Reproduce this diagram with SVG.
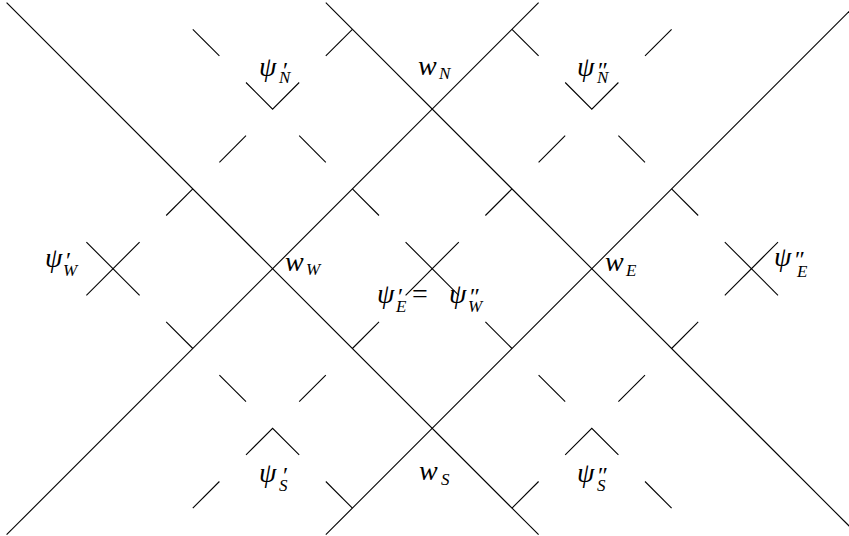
<svg xmlns="http://www.w3.org/2000/svg" width="849" height="536" viewBox="0 0 849 536">
<style>
.ln{stroke:#000;stroke-width:1.1;fill:none}
.m{font-family:"Liberation Serif","Times New Roman",serif;font-style:italic;font-size:28px;fill:#000}
.s{font-size:17px}
.p{font-style:normal;font-size:24px}
.u{font-style:normal}
</style>
<rect width="849" height="536" fill="#fff"/>
<g id="connectors" class="ln">
<line x1="6.6" y1="2.7" x2="538.6" y2="534.7"/>
<line x1="325.8" y1="2.7" x2="857.8" y2="534.7"/>
<line x1="538.6" y1="2.7" x2="6.6" y2="534.7"/>
<line x1="857.8" y1="2.7" x2="325.8" y2="534.7"/>
<line x1="192.8" y1="29.3" x2="219.4" y2="55.9"/>
<polyline points="246,82.5 272.6,109.1 299.2,82.5"/>
<line x1="246" y1="135.7" x2="219.4" y2="162.3"/>
<line x1="299.2" y1="135.7" x2="325.8" y2="162.3"/>
<line x1="352.4" y1="29.3" x2="325.8" y2="55.9"/>
<line x1="192.8" y1="188.9" x2="166.2" y2="215.5"/>
<line x1="352.4" y1="188.9" x2="379" y2="215.5"/>
<line x1="86.4" y1="242.1" x2="139.6" y2="295.3"/>
<line x1="139.6" y1="242.1" x2="86.4" y2="295.3"/>
<line x1="671.6" y1="29.3" x2="645" y2="55.9"/>
<polyline points="618.4,82.5 591.8,109.1 565.2,82.5"/>
<line x1="618.4" y1="135.7" x2="645" y2="162.3"/>
<line x1="565.2" y1="135.7" x2="538.6" y2="162.3"/>
<line x1="512" y1="29.3" x2="538.6" y2="55.9"/>
<line x1="671.6" y1="188.9" x2="698.2" y2="215.5"/>
<line x1="512" y1="188.9" x2="485.4" y2="215.5"/>
<line x1="724.8" y1="242.1" x2="778" y2="295.3"/>
<line x1="778" y1="242.1" x2="724.8" y2="295.3"/>
<line x1="405.6" y1="242.1" x2="458.8" y2="295.3"/>
<line x1="458.8" y1="242.1" x2="405.6" y2="295.3"/>
<line x1="192.8" y1="508.1" x2="219.4" y2="481.5"/>
<polyline points="246,454.9 272.6,428.3 299.2,454.9"/>
<line x1="246" y1="401.7" x2="219.4" y2="375.1"/>
<line x1="299.2" y1="401.7" x2="325.8" y2="375.1"/>
<line x1="352.4" y1="508.1" x2="325.8" y2="481.5"/>
<line x1="192.8" y1="348.5" x2="166.2" y2="321.9"/>
<line x1="352.4" y1="348.5" x2="379" y2="321.9"/>
<line x1="671.6" y1="508.1" x2="645" y2="481.5"/>
<polyline points="618.4,454.9 591.8,428.3 565.2,454.9"/>
<line x1="618.4" y1="401.7" x2="645" y2="375.1"/>
<line x1="565.2" y1="401.7" x2="538.6" y2="375.1"/>
<line x1="512" y1="508.1" x2="538.6" y2="481.5"/>
<line x1="671.6" y1="348.5" x2="698.2" y2="321.9"/>
<line x1="512" y1="348.5" x2="485.4" y2="321.9"/>
</g>
<g id="wN"><text class="m" x="418" y="75">w<tspan class="s" x="439" y="79">N</tspan></text></g>
<g id="wW"><text class="m" x="285" y="271">w<tspan class="s" x="306" y="275">W</tspan></text></g>
<g id="wE"><text class="m" x="605" y="271">w<tspan class="s" x="626" y="276">E</tspan></text></g>
<g id="wS"><text class="m" x="419" y="480">w<tspan class="s" x="441" y="485">S</tspan></text></g>
<g id="psiN1"><text class="m" x="259" y="76">ψ<tspan class="p" x="283" y="78">′</tspan><tspan class="s" x="279" y="83">N</tspan></text></g>
<g id="psiN2"><text class="m" x="577" y="76">ψ<tspan class="p" x="598" y="78">″</tspan><tspan class="s" x="597" y="83">N</tspan></text></g>
<g id="psiW1"><text class="m" x="45" y="267">ψ<tspan class="p" x="66" y="268">′</tspan><tspan class="s" x="63" y="276">W</tspan></text></g>
<g id="psiE2"><text class="m" x="774" y="266">ψ<tspan class="p" x="795" y="267">″</tspan><tspan class="s" x="797" y="277">E</tspan></text></g>
<g id="psiS1"><text class="m" x="259" y="482">ψ<tspan class="p" x="283" y="483">′</tspan><tspan class="s" x="279" y="491">S</tspan></text></g>
<g id="psiS2"><text class="m" x="577" y="482">ψ<tspan class="p" x="598" y="483">″</tspan><tspan class="s" x="597" y="491">S</tspan></text></g>
<g id="psiEW"><text class="m" x="377" y="303">ψ<tspan class="p" x="398" y="304">′</tspan><tspan class="s" x="396" y="312">E</tspan><tspan class="u" x="412" y="303">=</tspan><tspan x="449" y="303">ψ</tspan><tspan class="p" x="470" y="304">″</tspan><tspan class="s" x="468" y="312">W</tspan></text></g>
</svg>
